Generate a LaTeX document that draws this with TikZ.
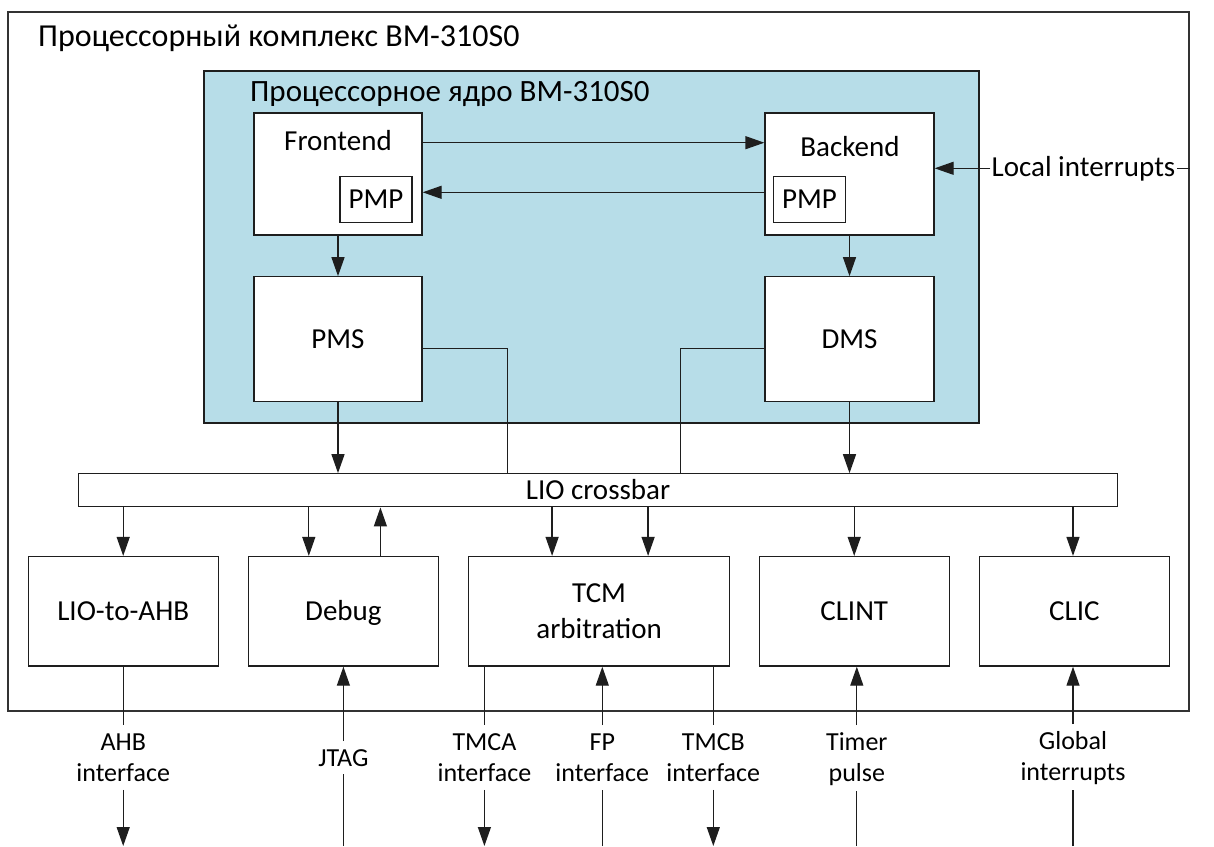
\documentclass[tikz,border=0pt]{standalone}
\usepackage{fontspec}
\setmainfont{Carlito}
\usetikzlibrary{arrows.meta}
\definecolor{coreblue}{RGB}{183,221,232}
\definecolor{edgec}{RGB}{30,30,30}
\newcommand\bxfnt{\fontsize{29}{36}\selectfont}
\newcommand\lbfnt{\fontsize{26}{31.5}\selectfont}
\newcommand\ttfnt{\fontsize{32}{38}\selectfont}
\newcommand\itfnt{\fontsize{31}{36}\selectfont}
\newcommand\lstr{\rule[-3pt]{0pt}{23pt}}
\begin{document}
\begin{tikzpicture}[x=1pt,y=-1pt,
  ln/.style={draw=edgec, line width=1.3pt},
  thinln/.style={draw=edgec, line width=1pt},
  arr/.style={ln, -{Triangle[length=19pt,width=13pt]}},
  box/.style={draw=edgec, line width=1.3pt, fill=white, inner sep=0pt, font=\bxfnt},
  bt/.style={box, text height=18pt, text depth=0pt},
  txt/.style={inner sep=0pt, font=\bxfnt},
  lbl/.style={font=\lbfnt, align=center, inner xsep=2pt, inner ysep=5pt, anchor=north}]
\useasboundingbox (0,0) rectangle (1214,846);
\fill[white] (0,0) rectangle (1214,846);
% outer complex
\node[draw=black!80, line width=1.5pt, minimum width=1181pt, minimum height=699pt, inner sep=0pt] (outer) at (598.5,361.5) {};
\node[txt, font=\ttfnt, anchor=base west] (ttl) at (38,46) {Процессорный комплекс ВМ-310S0};
% core
\node[draw=edgec, line width=1.3pt, fill=coreblue, minimum width=775pt, minimum height=352pt, inner sep=0pt] (core) at (591.5,247) {};
\node[txt, font=\itfnt, anchor=base west] (coret) at (250,101.5) {Процессорное ядро ВМ-310S0};
% frontend / backend
\node[box, minimum width=168pt, minimum height=122pt] (fe) at (338,174) {};
\node[txt, anchor=base] (fet) at (338,150.5) {Frontend};
\node[bt, minimum width=72pt, minimum height=46pt] (pmp1) at (376,199.7) {PMP};
\node[box, minimum width=169pt, minimum height=122pt] (be) at (849.5,174) {};
\node[txt, anchor=base] (bet) at (850,156) {Backend};
\node[bt, minimum width=72pt, minimum height=46pt] (pmp2) at (809.5,199.7) {PMP};
% PMS / DMS
\node[bt, minimum width=168pt, minimum height=125pt] (pms) at (338,339.3) {PMS};
\node[bt, minimum width=169pt, minimum height=125pt] (dms) at (849.5,339.3) {DMS};
% crossbar
\node[bt, minimum width=1039pt, minimum height=33pt] (cb) at (598,490.3) {LIO crossbar};
% bottom blocks
\node[bt, minimum width=190pt, minimum height=109.5pt] (lio) at (123.2,611.3) {LIO-to-AHB};
\node[bt, minimum width=190pt, minimum height=109.5pt] (dbg) at (343.4,611.3) {Debug};
\node[box, align=center, minimum width=261pt, minimum height=109.5pt] (tcm) at (599.1,611.3) {TCM\\arbitration};
\node[bt, minimum width=190pt, minimum height=109.5pt] (clint) at (854.2,611.3) {CLINT};
\node[bt, minimum width=190pt, minimum height=109.5pt] (clic) at (1074.4,611.3) {CLIC};
% core internal connectors
\coordinate (fb) at ([yshift=31.3pt]fe.east);
\draw[arr] (fb) -- (fb -| be.west);
\coordinate (bf) at ([yshift=-18.3pt]be.west);
\draw[arr] (bf) -- (bf -| fe.east);
\draw[arr] (fe.south) -- (pms.north);
\draw[arr] (be.south) -- (dms.north);
% local interrupts
\node[txt, anchor=base, inner xsep=1pt] (li) at (1083.5,176.7) {Local interrupts};
\coordinate (lic) at ([yshift=5.7pt]be.east);
\draw[ln] (lic -| outer.east) -- (lic -| li.east);
\draw[arr] (lic -| li.west) -- (lic);
% PMS/DMS to crossbar
\draw[arr] (pms.south) -- (pms.south |- cb.north);
\draw[arr] (dms.south) -- (dms.south |- cb.north);
\coordinate (pm) at ([yshift=-9pt]pms.east);
\coordinate (pmx) at (507.3,490);
\draw[thinln] (pm) -| (pmx |- cb.north);
\coordinate (dm) at ([yshift=-9pt]dms.west);
\coordinate (dmx) at (680.3,490);
\draw[thinln] (dm) -| (dmx |- cb.north);
% crossbar to blocks
\draw[arr] (lio.north |- cb.south) -- (lio.north);
\coordinate (d1) at ([xshift=-34.6pt]dbg.north);
\coordinate (d2) at ([xshift=37pt]dbg.north);
\draw[arr] (d1 |- cb.south) -- (d1);
\draw[arr] (d2) -- (d2 |- cb.south);
\coordinate (t1) at ([xshift=-47pt]tcm.north);
\coordinate (t2) at ([xshift=49pt]tcm.north);
\draw[arr] (t1 |- cb.south) -- (t1);
\draw[arr] (t2 |- cb.south) -- (t2);
\draw[arr] (clint.north |- cb.south) -- (clint.north);
\coordinate (c2) at ([xshift=-1.4pt]clic.north);
\draw[arr] (c2 |- cb.south) -- (c2);
% external signals
\node[lbl] (ahb) at (123.2,725) {\lstr AHB\\\lstr interface};
\coordinate (ahbe) at (123.2,846);
\draw[ln] (lio.south) -- (ahb.north);
\draw[arr] (ahb.south) -- (ahbe);
\node[lbl] (jtag) at (343.4,741) {\lstr JTAG};
\coordinate (jtage) at (343.4,846);
\draw[ln] (jtage) -- (jtag.south);
\draw[arr] (jtag.north) -- (dbg.south);
\node[lbl] (tmca) at (484.4,725) {\lstr TMCA\\\lstr interface};
\coordinate (tmcae) at (484.4,846);
\draw[ln] (tmca.north |- tcm.south) -- (tmca.north);
\draw[arr] (tmca.south) -- (tmcae);
\node[lbl] (fp) at (602.3,725) {\lstr FP\\\lstr interface};
\coordinate (fpe) at (602.3,846);
\draw[ln] (fpe) -- (fp.south);
\draw[arr] (fp.north) -- (fp.north |- tcm.south);
\node[lbl] (tmcb) at (713.3,725) {\lstr TMCB\\\lstr interface};
\coordinate (tmcbe) at (713.3,846);
\draw[ln] (tmcb.north |- tcm.south) -- (tmcb.north);
\draw[arr] (tmcb.south) -- (tmcbe);
\node[lbl] (tmr) at (856.8,725) {\lstr Timer\\\lstr pulse};
\coordinate (tmre) at (856.8,846);
\draw[ln] (tmre) -- (tmr.south);
\draw[arr] (tmr.north) -- (tmr.north |- clint.south);
\node[lbl] (glb) at (1073,724) {\lstr Global\\\lstr interrupts};
\coordinate (glbe) at (1073,846);
\draw[ln] (glbe) -- (glb.south);
\draw[arr] (glb.north) -- (glb.north |- clic.south);
\end{tikzpicture}
\end{document}
